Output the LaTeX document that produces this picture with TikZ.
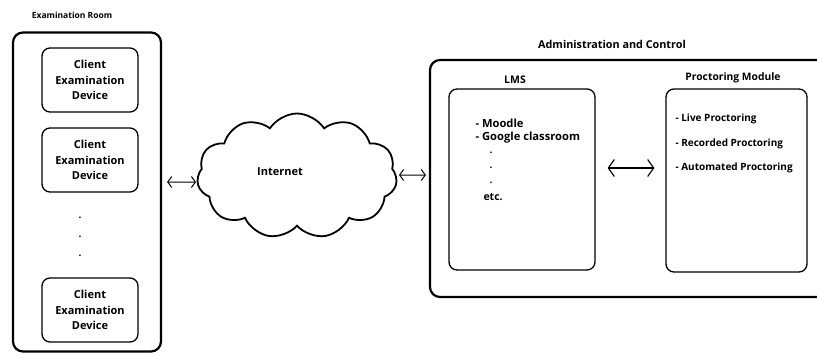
\documentclass[tikz,border=0pt]{standalone}
\usepackage{fontspec}
\setmainfont{Open Sans}
\usetikzlibrary{shapes.symbols,arrows.meta}
\begin{document}
\begin{tikzpicture}[x=1pt,y=-1pt,
  outerbox/.style={draw,line width=2.2pt,rounded corners=10pt,inner sep=0pt},
  innerbox/.style={draw,line width=1.3pt,rounded corners=8pt,inner sep=0pt},
  devtext/.style={font=\fontsize{11}{15.5}\selectfont\bfseries,align=center},
  lbl/.style={font=\fontsize{8.5}{10}\selectfont\bfseries},
  itm/.style={font=\fontsize{10}{12}\selectfont\bfseries,anchor=west},
  dotn/.style={font=\bfseries,inner sep=0pt},
  arr/.style={line width=1pt,{Straight Barb[length=4pt,width=11pt]}-{Straight Barb[length=4pt,width=11pt]}},
  bigarr/.style={line width=1.1pt,{Straight Barb[length=6pt,width=17pt]}-{Straight Barb[length=6pt,width=17pt]}}]
\useasboundingbox (0,0) rectangle (817,356);
\clip (0,0) rectangle (817,356);
% Examination room
\node[lbl] (roomlbl) at (72,15) {Examination Room};
\node[outerbox,minimum width=148pt,minimum height=319pt] (room) at (87,192) {};
\node[innerbox,minimum width=96pt,minimum height=64pt,devtext] (dev1) at (90,80) {Client\\Examination\\Device};
\node[innerbox,minimum width=96pt,minimum height=64pt,devtext] (dev2) at (90,160) {Client\\Examination\\Device};
\node[innerbox,minimum width=96pt,minimum height=64pt,devtext] (dev3) at (90,310) {Client\\Examination\\Device};
\node[dotn] (d1) at (80,218) {.};
\node[dotn] (d2) at (80,237) {.};
\node[dotn] (d3) at (80,256) {.};
% Internet cloud
\node[cloud,draw,line width=1.8pt,cloud puffs=11,cloud puff arc=115,aspect=1.7,minimum width=200pt,minimum height=125pt,inner sep=0pt] (cloud) at (297,176) {};
\node[font=\fontsize{11}{13}\selectfont\bfseries] (inet) at (280,172) {Internet};
% Administration and control
\node[font=\fontsize{10.8}{12}\selectfont\bfseries] (admlbl) at (612,44) {Administration and Control};
\node[outerbox,minimum width=400pt,minimum height=237pt] (adm) at (630,178.5) {};
\node[font=\fontsize{10.5}{12}\selectfont\bfseries] (lmslbl) at (515,80) {LMS};
\node[innerbox,minimum width=146pt,minimum height=181pt] (lms) at (522,179.5) {};
\node[itm,font=\fontsize{11.2}{13}\selectfont\bfseries] (m1) at (472,123) {- Moodle};
\node[itm,font=\fontsize{11.2}{13}\selectfont\bfseries] (m2) at (472,138) {- Google classroom};
\node[dotn] (e1) at (491,153) {.};
\node[dotn] (e2) at (491,168) {.};
\node[dotn] (e3) at (491,183) {.};
\node[itm,font=\fontsize{10.5}{12}\selectfont\bfseries] (m3) at (480,197) {etc.};
\node[font=\fontsize{10.3}{12}\selectfont\bfseries] (proclbl) at (733,78) {Proctoring Module};
\node[innerbox,minimum width=141pt,minimum height=183pt] (proc) at (736.5,180.5) {};
\node[itm] (p1) at (672,119) {- Live Proctoring};
\node[itm] (p2) at (672,144) {- Recorded Proctoring};
\node[itm] (p3) at (672,168) {- Automated Proctoring};
% connectors
\draw[arr] ([xshift=5pt,yshift=10pt]room.east) -- ([xshift=-1pt,yshift=-6pt]cloud.west);
\draw[arr] ([xshift=2pt,yshift=1pt]cloud.east) -- ([xshift=-3pt,yshift=3.5pt]adm.west);
\draw[bigarr] ([xshift=12pt,yshift=11.5pt]lms.east) -- ([xshift=-11pt,yshift=12.5pt]proc.west);
\end{tikzpicture}
\end{document}
